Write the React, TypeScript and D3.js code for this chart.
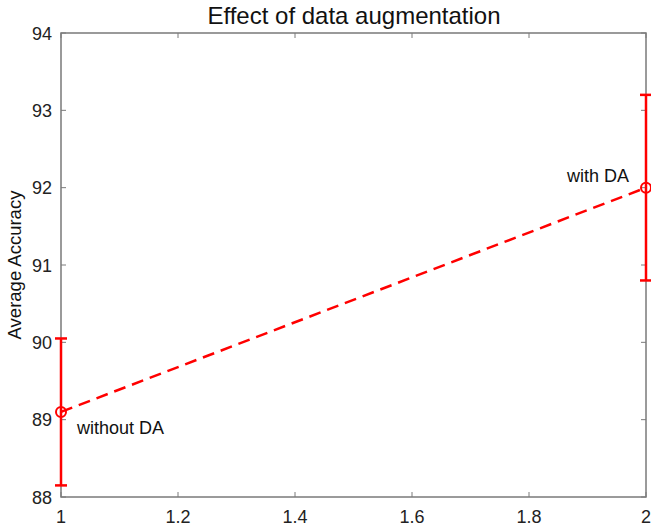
import React from 'react';
import * as d3 from 'd3';

// data
const xs = [1, 2];
const means = [89.1, 92.0];
const errs = [0.95, 1.2];
const pointLabels = ['without DA', 'with DA'];
const xTicks = [1, 1.2, 1.4, 1.6, 1.8, 2];
const yTicks = [88, 89, 90, 91, 92, 93, 94];

const W = 651;
const H = 526;
const margin = { top: 33, right: 5, bottom: 29, left: 61 };
const FONT = 'Liberation Sans, Arial, sans-serif';

const App: React.FC = () => {
  const x = d3.scaleLinear().domain([1, 2]).range([margin.left, W - margin.right]);
  const y = d3.scaleLinear().domain([88, 94]).range([H - margin.bottom, margin.top]);
  const axisColor = '#7a7a7a';
  const red = '#ff0000';
  const tick = 5;

  const line = d3.line<number>()
    .x((_, i) => x(xs[i]))
    .y(d => y(d));

  return (
    <svg width={W} height={H} style={{ position: 'absolute', left: 0, top: 0, background: '#fff' }}>
      <rect x={0} y={0} width={W} height={H} fill="#fff" />
      {/* title */}
      <text x={354} y={24} textAnchor="middle" fontFamily={FONT} fontSize={24} fill="#111">
        Effect of data augmentation
      </text>
      {/* y label */}
      <text transform={`translate(21, ${(y(88) + y(94)) / 2}) rotate(-90)`} textAnchor="middle"
        fontFamily={FONT} fontSize={18.5} fill="#111">
        Average Accuracy
      </text>

      {/* box */}
      <rect x={x(1)} y={y(94)} width={x(2) - x(1)} height={y(88) - y(94)}
        fill="none" stroke={axisColor} strokeWidth={1.5} />

      {/* ticks */}
      {xTicks.map(t => (
        <g key={'x' + t}>
          <line x1={x(t)} x2={x(t)} y1={y(88)} y2={y(88) - tick} stroke={axisColor} />
          <line x1={x(t)} x2={x(t)} y1={y(94)} y2={y(94) + tick} stroke={axisColor} />
          <text x={x(t)} y={y(88) + 26} textAnchor="middle" fontFamily={FONT} fontSize={18} fill="#222">
            {d3.format('~g')(t)}
          </text>
        </g>
      ))}
      {yTicks.map(t => (
        <g key={'y' + t}>
          <line x1={x(1)} x2={x(1) + tick} y1={y(t)} y2={y(t)} stroke={axisColor} />
          <line x1={x(2)} x2={x(2) - tick} y1={y(t)} y2={y(t)} stroke={axisColor} />
          <text x={x(1) - 9} y={y(t) + 6.5} textAnchor="end" fontFamily={FONT} fontSize={18} fill="#222">
            {t}
          </text>
        </g>
      ))}

      {/* error bars */}
      {xs.map((v, i) => (
        <g key={'e' + i} stroke={red} strokeWidth={2.5}>
          <line x1={x(v)} x2={x(v)} y1={y(means[i] - errs[i])} y2={y(means[i] + errs[i])} />
          <line x1={x(v) - 6} x2={x(v) + 6} y1={y(means[i] - errs[i])} y2={y(means[i] - errs[i])} />
          <line x1={x(v) - 6} x2={x(v) + 6} y1={y(means[i] + errs[i])} y2={y(means[i] + errs[i])} />
        </g>
      ))}

      {/* dashed line */}
      <path d={line(means) || ''} fill="none" stroke={red} strokeWidth={2.5} strokeDasharray="12,7" />

      {/* markers */}
      {xs.map((v, i) => (
        <circle key={'c' + i} cx={x(v)} cy={y(means[i])} r={5} fill="none" stroke={red} strokeWidth={2} />
      ))}

      {/* point labels */}
      <text x={x(xs[0]) + 16} y={y(means[0]) + 22} fontFamily={FONT} fontSize={18} fill="#111">
        {pointLabels[0]}
      </text>
      <text x={x(xs[1]) - 79} y={y(means[1]) - 6} fontFamily={FONT} fontSize={18} fill="#111">
        {pointLabels[1]}
      </text>
    </svg>
  );
};

export default App;
